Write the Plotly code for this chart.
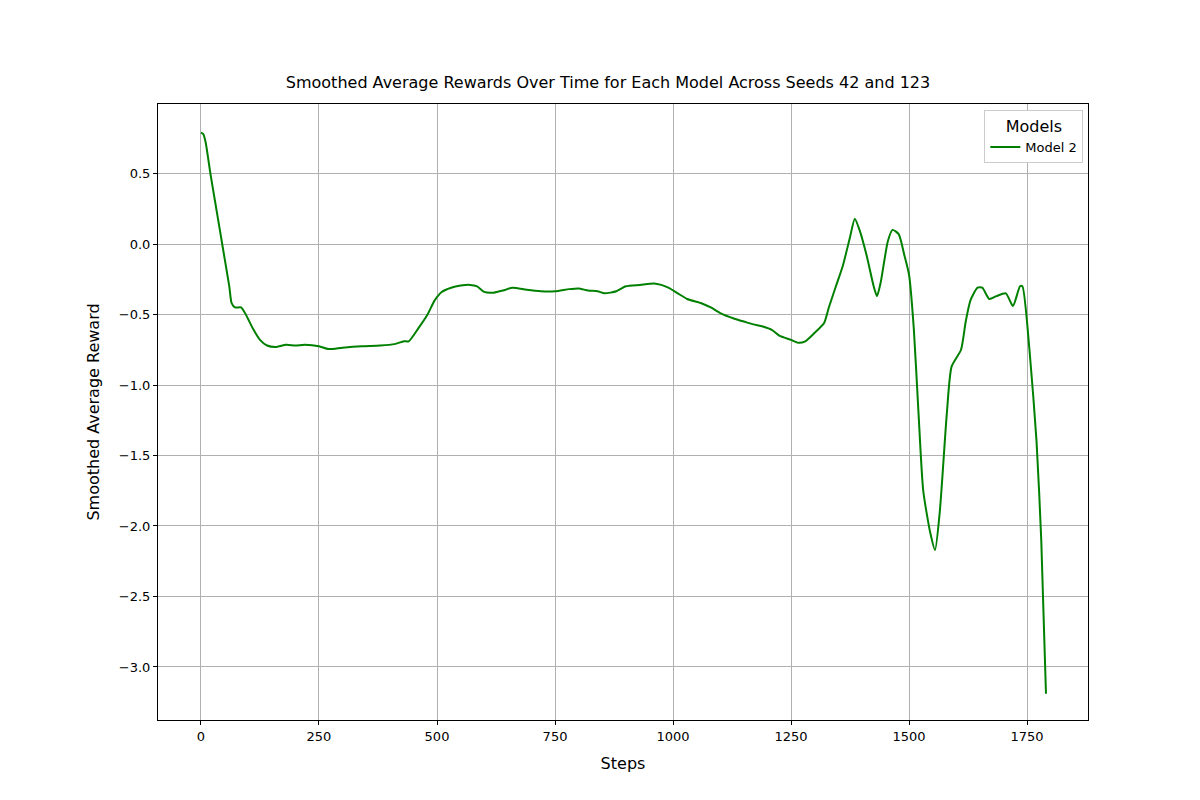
import plotly.graph_objects as go

steps = [0,5,10,20,30,40,50,60,65,72,85,95,110,125,140,160,180,200,220,250,270,300,340,380,410,430,440,460,480,495,510,530,550,570,585,600,620,640,660,690,720,750,780,800,820,840,855,880,900,930,960,975,990,1010,1030,1060,1080,1100,1130,1150,1170,1190,1210,1225,1250,1265,1280,1300,1320,1330,1345,1360,1375,1385,1395,1410,1425,1432,1440,1455,1465,1478,1490,1500,1510,1520,1530,1545,1555,1565,1580,1590,1610,1620,1630,1645,1655,1670,1685,1705,1720,1735,1740,1755,1770,1780,1790]
rewards = [0.79,0.78,0.72,0.5,0.3,0.1,-0.1,-0.3,-0.42,-0.45,-0.45,-0.5,-0.6,-0.68,-0.72,-0.73,-0.715,-0.72,-0.715,-0.725,-0.745,-0.735,-0.725,-0.72,-0.71,-0.69,-0.69,-0.6,-0.5,-0.4,-0.34,-0.31,-0.295,-0.29,-0.3,-0.34,-0.345,-0.33,-0.31,-0.325,-0.335,-0.335,-0.32,-0.315,-0.33,-0.335,-0.35,-0.335,-0.3,-0.29,-0.28,-0.29,-0.31,-0.35,-0.39,-0.42,-0.45,-0.49,-0.53,-0.55,-0.57,-0.585,-0.61,-0.65,-0.68,-0.7,-0.69,-0.63,-0.56,-0.45,-0.3,-0.15,0.05,0.18,0.1,-0.08,-0.3,-0.37,-0.27,0.02,0.1,0.07,-0.08,-0.22,-0.6,-1.2,-1.75,-2.05,-2.17,-1.9,-1.2,-0.87,-0.75,-0.55,-0.4,-0.31,-0.31,-0.39,-0.37,-0.35,-0.44,-0.3,-0.3,-0.75,-1.4,-2.1,-3.19]

fig = go.Figure(go.Scatter(x=steps, y=rewards, mode="lines", name="Model 2",
                           line=dict(color="green", width=2, shape="spline", smoothing=0.6)))
ax = dict(showline=True, linecolor="black", mirror=True, showgrid=True, gridcolor="#b0b0b0",
          ticks="outside", ticklen=4, tickcolor="black", zeroline=False)
fig.update_layout(
    width=1200, height=800, paper_bgcolor="white", plot_bgcolor="white",
    font=dict(family="DejaVu Sans", size=13, color="black"),
    margin=dict(l=150, r=120, t=96, b=88),
    title=dict(text="Smoothed Average Rewards Over Time for Each Model Across Seeds 42 and 123",
               x=0.5, xanchor="center", y=0.9, yanchor="bottom", font=dict(size=16)),
    xaxis=dict(ax, title=dict(text="Steps"), range=[-91, 1879], tickvals=[0,250,500,750,1000,1250,1500,1750]),
    yaxis=dict(ax, title=dict(text="Smoothed Average Reward"), range=[-3.376, 0.993],
               tickvals=[0.5,0,-0.5,-1,-1.5,-2,-2.5,-3],
               ticktext=["0.5","0.0","−0.5","−1.0","−1.5","−2.0","−2.5","−3.0"]),
    showlegend=True,
    legend=dict(title=dict(text="Models", side="top center"), x=0.995, y=0.99, xanchor="right", yanchor="top",
                bordercolor="#cccccc", borderwidth=1, bgcolor="white"),
)
fig.write_html("out.html")
